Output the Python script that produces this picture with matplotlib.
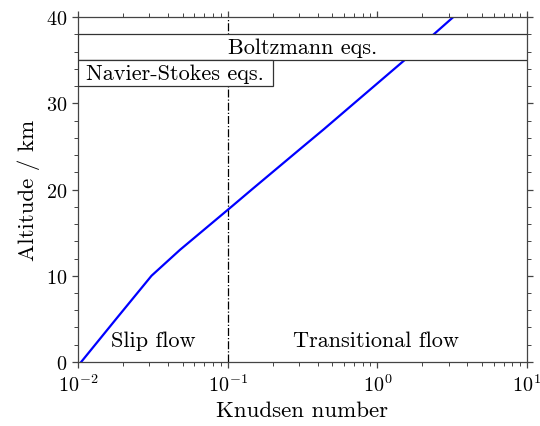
# -*- coding: utf-8 -*-
"""
Knudsen number against altitude, with the flow regimes marked.
"""

import matplotlib.pyplot as plt
from matplotlib.patches import Rectangle

plt.rcParams['font.family'] = ['cmr10', 'DejaVu Serif']
plt.rcParams['mathtext.fontset'] = 'cm'
plt.rcParams['axes.formatter.use_mathtext'] = True

# altitude (km) and Knudsen number along the profile
altitude = [0, 5, 10, 13, 18, 20, 25, 27, 30, 35, 40]
knudsen = [0.0105, 0.018, 0.031, 0.048, 0.106, 0.145, 0.32, 0.44, 0.70,
           1.52, 3.22]

# regime limits
kn_slip = 0.1
ns_box = [0.01, 0.2, 32, 35]        # x0, x1, y0, y1
boltz_box = [0.01, 10, 35, 38]

fig = plt.figure(figsize=(5.4, 4.27), dpi=100)
ax = fig.add_axes([0.1444, 0.1499, 0.8315, 0.8079])

ax.plot(knudsen, altitude, color='#0000ff', lw=1.6, zorder=2)
ax.axvline(kn_slip, color='black', lw=0.9, ls='-.', zorder=1)

# boxes for the equation sets, drawn over the curve
for box, label, xt in [(boltz_box, 'Boltzmann eqs.', 0.316),
                       (ns_box, 'Navier-Stokes eqs.', 0.0447)]:
    r = Rectangle((box[0], box[2]), box[1] - box[0], box[3] - box[2],
                  facecolor='white', edgecolor='#333333', lw=0.9, zorder=3)
    ax.add_patch(r)
    ax.text(xt, (box[2] + box[3]) / 2.0, label, ha='center', va='center',
            fontsize=16, zorder=4)

ax.text(0.0316, 2.5, 'Slip flow', ha='center', va='center', fontsize=16)
ax.text(0.98, 2.5, 'Transitional flow', ha='center', va='center', fontsize=16)

ax.set_xscale('log')
ax.set_xlim(0.01, 10)
ax.set_ylim(0, 40)
ax.set_yticks([0, 10, 20, 30, 40])
ax.set_yticks(range(0, 41, 2), minor=True)

ax.set_xlabel('Knudsen number', fontsize=16.5)
ax.set_ylabel('Altitude / km', fontsize=16.5)

for s in ax.spines.values():
    s.set_color('#444444')
    s.set_linewidth(0.9)
ax.tick_params(which='both', direction='out', top=True, right=True,
               color='#444444', labelsize=14.5)
ax.tick_params(which='major', length=4.5, width=0.9)
ax.tick_params(which='minor', length=2.8, width=0.7)

plt.savefig('out.png', dpi=100)
plt.close()
